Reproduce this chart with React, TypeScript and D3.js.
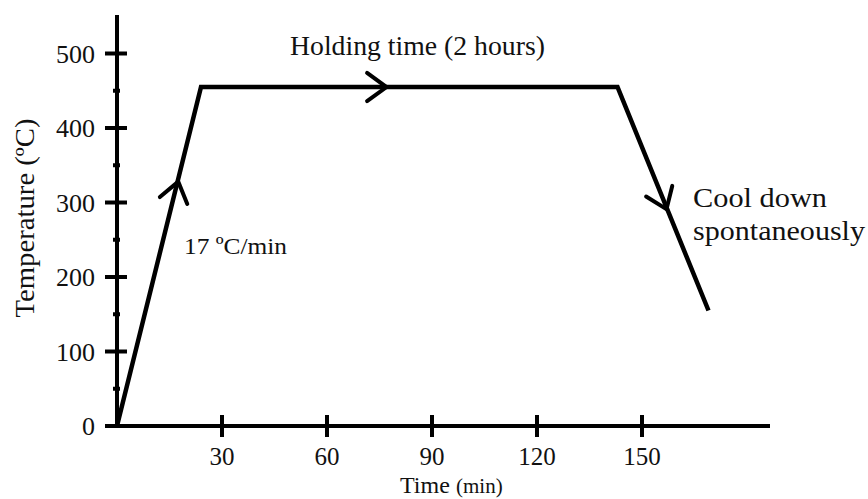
import React from "react";
import * as d3 from "d3";

// heating profile
const profileTime = [0, 24, 143, 169];
const profileTemp = [0, 455, 455, 155];

// arrow heads along the profile: [time, temp, direction segment index]
const arrowTime = [17.5, 77, 157];
const arrowTemp = [328, 455, 291];
const arrowSeg = [0, 1, 2];

const xTicks = [30, 60, 90, 120, 150];
const yTicks = [0, 100, 200, 300, 400, 500];
const yMinorTicks = [50, 150, 250, 350, 450];

const width = 868;
const height = 499;
const font = "'Liberation Serif', 'Times New Roman', serif";

export default function App() {
  const x = d3.scaleLinear().domain([0, 150]).range([117, 642]);
  const y = d3.scaleLinear().domain([0, 500]).range([426, 53.5]);

  const pts = profileTime.map((t, i) => [x(t), y(profileTemp[i])] as [number, number]);
  const line = d3.line<[number, number]>();

  const arrows = arrowTime.map((t, i) => {
    const s = arrowSeg[i];
    const [x0, y0] = pts[s];
    const [x1, y1] = pts[s + 1];
    const ang = Math.atan2(y0 - y1, x0 - x1); // backwards direction
    const tx = x(t);
    const ty = y(arrowTemp[i]);
    const len = 24;
    const spread = (36 * Math.PI) / 180;
    const a1: [number, number] = [tx + len * Math.cos(ang + spread), ty + len * Math.sin(ang + spread)];
    const a2: [number, number] = [tx + len * Math.cos(ang - spread), ty + len * Math.sin(ang - spread)];
    return line([a1, [tx, ty], a2]);
  });

  return (
    <svg
      width={width}
      height={height}
      style={{ position: "absolute", left: 0, top: 0, background: "#fff" }}
      fontFamily={font}
      fill="#111"
    >
      {/* axes */}
      <line x1={x(0)} x2={x(0)} y1={15} y2={y(0) + 2} stroke="#000" strokeWidth={4} />
      <line x1={105} x2={770} y1={y(0)} y2={y(0)} stroke="#000" strokeWidth={4} />

      {yTicks.map((v) => (
        <g key={v}>
          {v > 0 && (
            <line x1={105} x2={127} y1={y(v)} y2={y(v)} stroke="#000" strokeWidth={4} />
          )}
          <text x={95} y={y(v)} dy="0.35em" textAnchor="end" fontSize={26}>
            {v}
          </text>
        </g>
      ))}
      {yMinorTicks.map((v) => (
        <line key={v} x1={113} x2={120} y1={y(v)} y2={y(v)} stroke="#000" strokeWidth={4} />
      ))}

      {xTicks.map((v) => (
        <g key={v}>
          <line x1={x(v)} x2={x(v)} y1={415} y2={437} stroke="#000" strokeWidth={4} />
          <text x={x(v)} y={465} textAnchor="middle" fontSize={25}>
            {v}
          </text>
        </g>
      ))}

      <text x={400} y={493} fontSize={24}>
        Time
      </text>
      <text x={456} y={493} fontSize={21}>
        (min)
      </text>
      <text
        transform={`translate(34,218) rotate(-90)`}
        textAnchor="middle"
        fontSize={27}
        textLength={199}
        lengthAdjust="spacingAndGlyphs"
      >
        Temperature (ºC)
      </text>

      {/* profile */}
      <path d={line(pts) ?? ""} fill="none" stroke="#000" strokeWidth={4.5} strokeLinejoin="miter" />
      {arrows.map((d, i) => (
        <path key={i} d={d ?? ""} fill="none" stroke="#000" strokeWidth={4} strokeLinecap="round" />
      ))}

      {/* annotations */}
      <text x={290} y={55} fontSize={27} textLength={255} lengthAdjust="spacingAndGlyphs">
        Holding time (2 hours)
      </text>
      <text x={184} y={254} fontSize={24} textLength={103} lengthAdjust="spacingAndGlyphs">
        17 ºC/min
      </text>
      <text x={693} y={207} fontSize={28} textLength={134} lengthAdjust="spacingAndGlyphs">
        Cool down
      </text>
      <text x={693} y={240} fontSize={28} textLength={172} lengthAdjust="spacingAndGlyphs">
        spontaneously
      </text>
    </svg>
  );
}
